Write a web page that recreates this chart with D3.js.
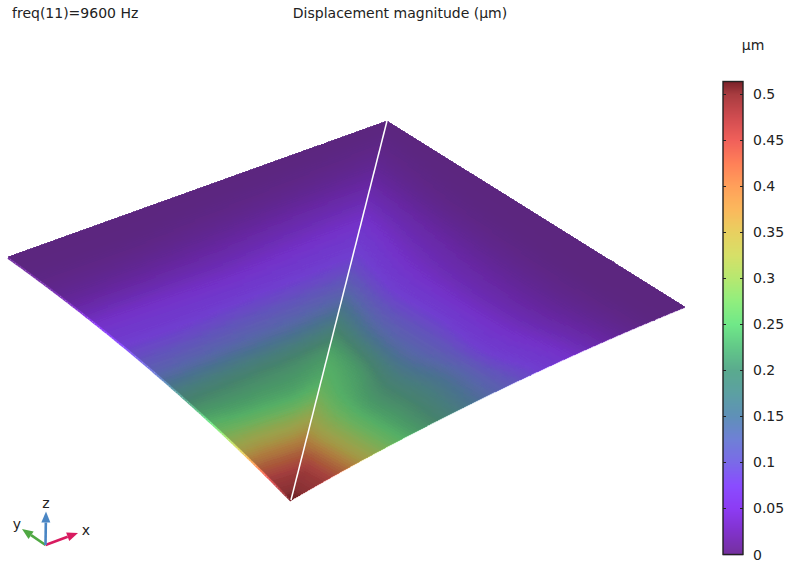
<!DOCTYPE html>
<html><head><meta charset="utf-8">
<script src="https://cdn.jsdelivr.net/npm/d3@7"></script>
<style>html,body{margin:0;padding:0;background:#fff}svg{display:block}text{font-family:"DejaVu Sans",sans-serif;fill:#222}</style>
</head><body><svg id="c" width="785" height="561"></svg>
<script>
// Text
const freqLabel = "freq(11)=9600 Hz";
const titleLabel = "Displacement magnitude (µm)";
const unitLabel = "µm";
// Colour legend
const tickValues = [0,0.05,0.1,0.15,0.2,0.25,0.3,0.35,0.4,0.45,0.5];
const tickLabels = ["0","0.05","0.1","0.15","0.2","0.25","0.3","0.35","0.4","0.45","0.5"];
const valueMax = 0.514;
const colorValues = [0,0.025,0.05,0.075,0.1,0.125,0.15,0.175,0.2,0.225,0.25,0.275,0.3,0.325,0.35,0.375,0.4,0.425,0.45,0.475,0.5,0.514];
const colorStops = ["#74309e","#8132cc","#8c3cf4","#8a4cff","#7a6ae8","#6f80d6","#5f90b8","#5ca0a2","#5aaa8e","#62c888","#70e888","#90ee7e","#b6e870","#d6e068","#e8d060","#fbb85c","#ffa05a","#ff8058","#f0605a","#d04c50","#a83c40","#7a2028"];
// Surface lighting: how much of the legend colour survives, by displacement
const shadeValues = [0,0.05,0.15,0.25,0.35,0.42,0.47,0.514];
const shadeLevels = [0.78,0.82,0.78,0.75,0.71,0.66,0.7,0.85];
// Sheet corners in model coordinates (x: 0..1, y: 0..1 top to bottom)
const cornerLeft = [0,0.3588], cornerTop = [0.5598,0], cornerRight = [1,0.4908], cornerBottom = [0.418,1];
const bowLeft = [0.0074,-0.0172], bowRight = [-0.0049,-0.0177];
// Displacement. Rows: distance out from the bottom corner, columns: across the face
const leftFace = [
 [.514,.514,.514,.514,.514],
 [.44,.44,.44,.44,.44],
 [.33,.335,.335,.335,.34],
 [.25,.245,.245,.245,.255],
 [.19,.195,.2,.205,.215],
 [.12,.125,.13,.135,.145],
 [.08,.08,.085,.088,.092],
 [.05,.05,.05,.055,.06],
 [.02,.022,.025,.03,.033],
 [.006,.006,.008,.01,.012],
 [.002,.002,.002,.002,.002]];
const rightFace = [
 [.514,.514,.514,.514,.514],
 [.44,.45,.45,.45,.45],
 [.335,.33,.33,.33,.33],
 [.27,.255,.245,.245,.245],
 [.235,.22,.195,.195,.19],
 [.165,.14,.13,.14,.135],
 [.10,.085,.085,.08,.09],
 [.065,.05,.045,.045,.055],
 [.035,.028,.022,.02,.025],
 [.012,.008,.006,.005,.006],
 [.002,.002,.002,.002,.002]];

const svg = d3.select("#c");
const defs = svg.append("defs");
defs.append("filter").attr("id","soft").attr("x","-2%").attr("y","-2%").attr("width","104%").attr("height","104%")
  .append("feGaussianBlur").attr("stdDeviation",0.55);
const xS = d3.scaleLinear([0,1],[8,685]);
const yS = d3.scaleLinear([0,1],[121,500]);
const color = d3.scaleLinear(colorValues,colorStops).interpolate(d3.interpolateRgb);
const shade = d3.scaleLinear(shadeValues,shadeLevels);
const shaded = v => { const c = d3.rgb(color(v)), k = shade(v); return d3.rgb(c.r*k,c.g*k,c.b*k).formatRgb(); };

function cr(p0,p1,p2,p3,f){return .5*(2*p1+(p2-p0)*f+(2*p0-5*p1+4*p2-p3)*f*f+(3*p1-p0-3*p2+p3)*f*f*f);}
function sample1(a,f){const n=a.length-1,x=Math.min(f*n,n-1e-6),i=Math.floor(x),g=x-i;
  return cr(a[Math.max(i-1,0)],a[i],a[i+1],a[Math.min(i+2,n)],g);}
function sampleGrid(grid,s,t){return Math.max(0,Math.min(valueMax,sample1(grid.map(r=>sample1(r,t)),s)));}

function surface(farA,farB,bow,bowAtEnd){
  return (s,t)=>{
    const w = bowAtEnd ? t : 1-t, k = 4*s*(1-s)*w;
    return [
      xS(cornerBottom[0]+s*((1-t)*farA[0]+t*farB[0]-cornerBottom[0])+k*bow[0]),
      yS(cornerBottom[1]+s*((1-t)*farA[1]+t*farB[1]-cornerBottom[1])+k*bow[1])];
  };
}
const plate = svg.append("g").attr("filter","url(#soft)");
function drawFace(grid,pos,ns,nt){
  const cells=[];
  for(let i=0;i<ns;i++)for(let j=0;j<nt;j++){
    const s0=i/ns,s1=(i+1)/ns,t0=j/nt,t1=(j+1)/nt;
    cells.push({pts:[pos(s0,t0),pos(s1,t0),pos(s1,t1),pos(s0,t1)],v:sampleGrid(grid,(s0+s1)/2,(t0+t1)/2)});
  }
  plate.append("g").attr("shape-rendering","crispEdges").selectAll("polygon").data(cells).join("polygon")
    .attr("points",d=>d.pts.map(p=>p.map(q=>q.toFixed(2)).join(",")).join(" "))
    .attr("fill",d=>shaded(d.v)).attr("stroke",d=>shaded(d.v)).attr("stroke-width",.8);
}
const leftPos = surface(cornerLeft,cornerTop,bowLeft,false);
const rightPos = surface(cornerTop,cornerRight,bowRight,true);

function drawRim(grid,pos,t,width,dy,op){
  const n=120,segs=d3.range(n).map(i=>({a:pos(i/n,t),b:pos((i+1)/n,t),v:sampleGrid(grid,(i+.5)/n,t)}));
  plate.append("g").selectAll("line").data(segs).join("line")
    .attr("x1",d=>d.a[0]).attr("y1",d=>d.a[1]+dy).attr("x2",d=>d.b[0]).attr("y2",d=>d.b[1]+dy)
    .attr("stroke",d=>color(d.v)).attr("stroke-width",width).attr("stroke-opacity",op);
}
drawFace(leftFace,leftPos,150,60);
drawFace(rightFace,rightPos,150,60);
drawRim(leftFace,leftPos,0,2,0.9,1);
drawRim(rightFace,rightPos,1,1,0.5,.45);

svg.append("line")
  .attr("x1",xS(cornerTop[0])).attr("y1",yS(cornerTop[1]))
  .attr("x2",xS(cornerBottom[0])).attr("y2",yS(cornerBottom[1]))
  .attr("stroke","#fff").attr("stroke-width",1.5);

// titles
svg.append("text").attr("x",12).attr("y",18).attr("font-size",14).text(freqLabel);
svg.append("text").attr("x",400).attr("y",18).attr("font-size",14).attr("text-anchor","middle").text(titleLabel);
svg.append("text").attr("x",753).attr("y",50).attr("font-size",14).attr("text-anchor","middle").text(unitLabel);

// colour bar
const barY = d3.scaleLinear([0,valueMax],[554.5,81.5]);
const barX0=723, barW=20;
const barG = svg.append("g");
barG.selectAll("rect").data(d3.range(81,555)).join("rect")
  .attr("x",barX0).attr("width",barW).attr("y",d=>d).attr("height",1.2)
  .attr("fill",d=>color(Math.max(0,barY.invert(d+.5))));
barG.append("rect").attr("x",barX0).attr("y",81.5).attr("width",barW).attr("height",473)
  .attr("fill","none").attr("stroke","#222").attr("stroke-width",1.4);
tickValues.forEach((v,i)=>{
  const y=Math.round(barY(v))+.5;
  if(v>0){
    barG.append("line").attr("x1",barX0).attr("x2",barX0+3).attr("y1",y).attr("y2",y).attr("stroke","#222");
    barG.append("line").attr("x1",barX0+barW-3).attr("x2",barX0+barW).attr("y1",y).attr("y2",y).attr("stroke","#222");
  }
  barG.append("text").attr("x",753).attr("y",barY(v)+5).attr("font-size",14).text(tickLabels[i]);
});

// orientation triad
const triadOrigin=[45.5,545];
const triadTips=[{n:"y",tip:[22,529],c:"#4fa843",l:[17,524]},{n:"x",tip:[78,533],c:"#d81b60",l:[86,530]},{n:"z",tip:[46,511.5],c:"#4a86c4",l:[46,503]}];
const tg=svg.append("g");
triadTips.forEach(a=>{
  const dx=a.tip[0]-triadOrigin[0],dy=a.tip[1]-triadOrigin[1],len=Math.hypot(dx,dy),ux=dx/len,uy=dy/len;
  const bx=a.tip[0]-ux*11,by=a.tip[1]-uy*11,nx=-uy*4.5,ny=ux*4.5;
  tg.append("line").attr("x1",triadOrigin[0]).attr("y1",triadOrigin[1]).attr("x2",bx).attr("y2",by).attr("stroke",a.c).attr("stroke-width",2.6);
  tg.append("polygon").attr("points",[[a.tip[0],a.tip[1]],[bx+nx,by+ny],[bx-nx,by-ny]].map(p=>p.join(",")).join(" ")).attr("fill",a.c);
  tg.append("text").attr("x",a.l[0]).attr("y",a.l[1]+5).attr("font-size",14).attr("text-anchor","middle").text(a.n);
});
</script></body></html>
